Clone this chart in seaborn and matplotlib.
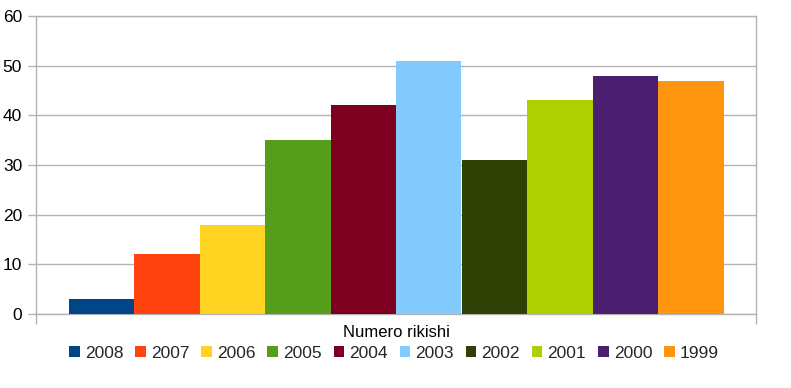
import pandas as pd
import seaborn as sns
import matplotlib.pyplot as plt
from matplotlib.patches import Patch

# ---- Data ----
years = ["2008", "2007", "2006", "2005", "2004", "2003", "2002", "2001", "2000", "1999"]
values = [3, 12, 18, 35, 42, 51, 31, 43, 48, 47]
colors = ["#004586", "#ff420e", "#ffd320", "#579d1c", "#7e0021",
          "#83caff", "#314004", "#aecf00", "#4b1f6f", "#ff950e"]
category = "Numero rikishi"

df = pd.DataFrame({"cat": [category] * len(years), "year": years, "value": values})

# ---- Plot ----
sns.set_theme(style="white")
plt.rcParams["font.family"] = ["Liberation Sans", "DejaVu Sans"]

fig = plt.figure(figsize=(7.91, 3.88), dpi=100)
ax = fig.add_axes([36 / 791, 1 - 314 / 388, 720 / 791, 298 / 388])

sns.barplot(data=df, x="cat", y="value", hue="year", hue_order=years,
            palette=colors, width=655 / 720, saturation=1, ax=ax,
            legend=False, linewidth=0, zorder=3)

ax.set_xlim(-0.5, 0.5)
ax.set_ylim(0, 60)
ax.set_yticks(range(0, 61, 10))
ax.set_xticks([-0.5, 0.5], minor=True)
ax.yaxis.grid(True, color="#b3b3b3", linewidth=1, zorder=0)
ax.set_axisbelow(True)
for side in ["left", "right", "top", "bottom"]:
    ax.spines[side].set_visible(True)
    ax.spines[side].set_color("#b3b3b3")
    ax.spines[side].set_linewidth(1)
ax.tick_params(axis="y", length=6, color="#b3b3b3", width=1, pad=4,
               labelsize=12.5, labelcolor="black", left=True)
ax.tick_params(axis="x", which="major", length=0, pad=8, labelsize=12, labelcolor="black")
ax.tick_params(axis="x", which="minor", length=7, color="#b3b3b3", width=1, bottom=True)
ax.set_xlabel("")
ax.set_ylabel("")

handles = [Patch(facecolor=c, edgecolor="none", label=y) for y, c in zip(years, colors)]
fig.legend(handles=handles, loc="center", bbox_to_anchor=(394 / 791, 1 - 353 / 388),
           ncol=10, frameon=False, fontsize=12.5, handlelength=0.6, handleheight=0.6,
           handletextpad=0.3, columnspacing=0.69, borderaxespad=0, borderpad=0)

plt.savefig("out.png", dpi=100)
plt.close()
